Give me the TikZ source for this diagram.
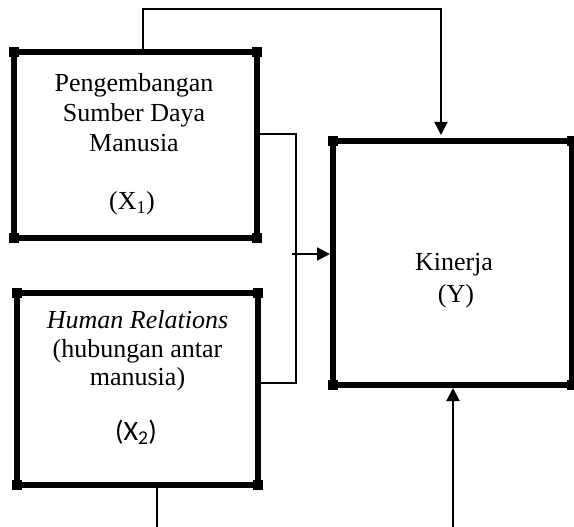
\documentclass[tikz,border=0pt]{standalone}
\usepackage{fontspec}
\setmainfont{Liberation Serif}
\newfontfamily\carl{Carlito}
\usetikzlibrary{arrows.meta,calc}
\tikzset{
  box/.style={draw=black, line width=6pt, outer sep=0pt, inner sep=0pt},
  txt/.style={anchor=base, inner sep=0pt, font=\fontsize{26}{30}\selectfont},
  conn/.style={draw=black, line width=1.3pt},
  arr/.style={conn, line width=2pt, -{Triangle[length=13pt,width=13pt]}},
}
\begin{document}
\begin{tikzpicture}[x=1pt,y=-1pt]
\useasboundingbox (0,0) rectangle (574,527);
\fill[white] (0,0) rectangle (574,527);
% boxes
\node[box, minimum width=243pt, minimum height=186pt] (x1) at (135.5,145) {};
\node[box, minimum width=241pt, minimum height=192pt] (x2) at (137.5,389) {};
\node[box, minimum width=239pt, minimum height=244pt] (y) at (452.5,263) {};
\foreach \n in {x1,x2,y}{
  \foreach \a in {north west,north east,south west,south east}{
    \fill[black] ($(\n.\a)+(-5,-5)$) rectangle ($(\n.\a)+(5,5)$);
  }
}
% texts
\node[txt] (a1) at (134,92) {Pengembangan};
\node[txt] (a2) at (134,122) {Sumber Daya};
\node[txt] (a3) at (134,152) {Manusia};
\node[txt] (a4) at (132,210) {(X\textsubscript{1})};
\node[txt] (b1) at (137.5,328) {\itshape Human Relations};
\node[txt] (b2) at (137.5,357) {(hubungan antar};
\node[txt] (b3) at (137.5,385) {manusia)};
\node[txt, font=\carl\fontsize{28}{32}\selectfont] (b4) at (136,440) {(X\textsubscript{2})};
\node[txt] (c1) at (454,270) {Kinerja};
\node[txt] (c2) at (456,302) {(Y)};
% connectors
\coordinate (topy) at (0,9);
\coordinate (bot) at (0,545);
\coordinate (m) at (292,254);
\coordinate (bx) at (296,0);
\draw[conn, -{Triangle[length=13pt,width=13pt]}, shorten >=6pt]
  ([xshift=7.5pt]x1.north) -- ([xshift=7.5pt]x1.north |- topy) -| ([xshift=-11.5pt]y.north);
\draw[conn] ([yshift=11pt]x1.east) -- ([yshift=11pt]x1.east -| bx) -- ([yshift=6pt]x2.east -| bx) -- ([yshift=6pt]x2.east);
\draw[arr, shorten >=3pt] (m) -- (m -| y.west);
\draw[conn] ([xshift=19.5pt]x2.south) -- ([xshift=19.5pt]x2.south |- bot);
\draw[arr, shorten >=3pt] ([xshift=0.5pt]y.south |- bot) -- ([xshift=0.5pt]y.south);
\draw[conn] ([xshift=19.5pt]x2.south |- bot) -- ([xshift=0.5pt]y.south |- bot);
\end{tikzpicture}
\end{document}
